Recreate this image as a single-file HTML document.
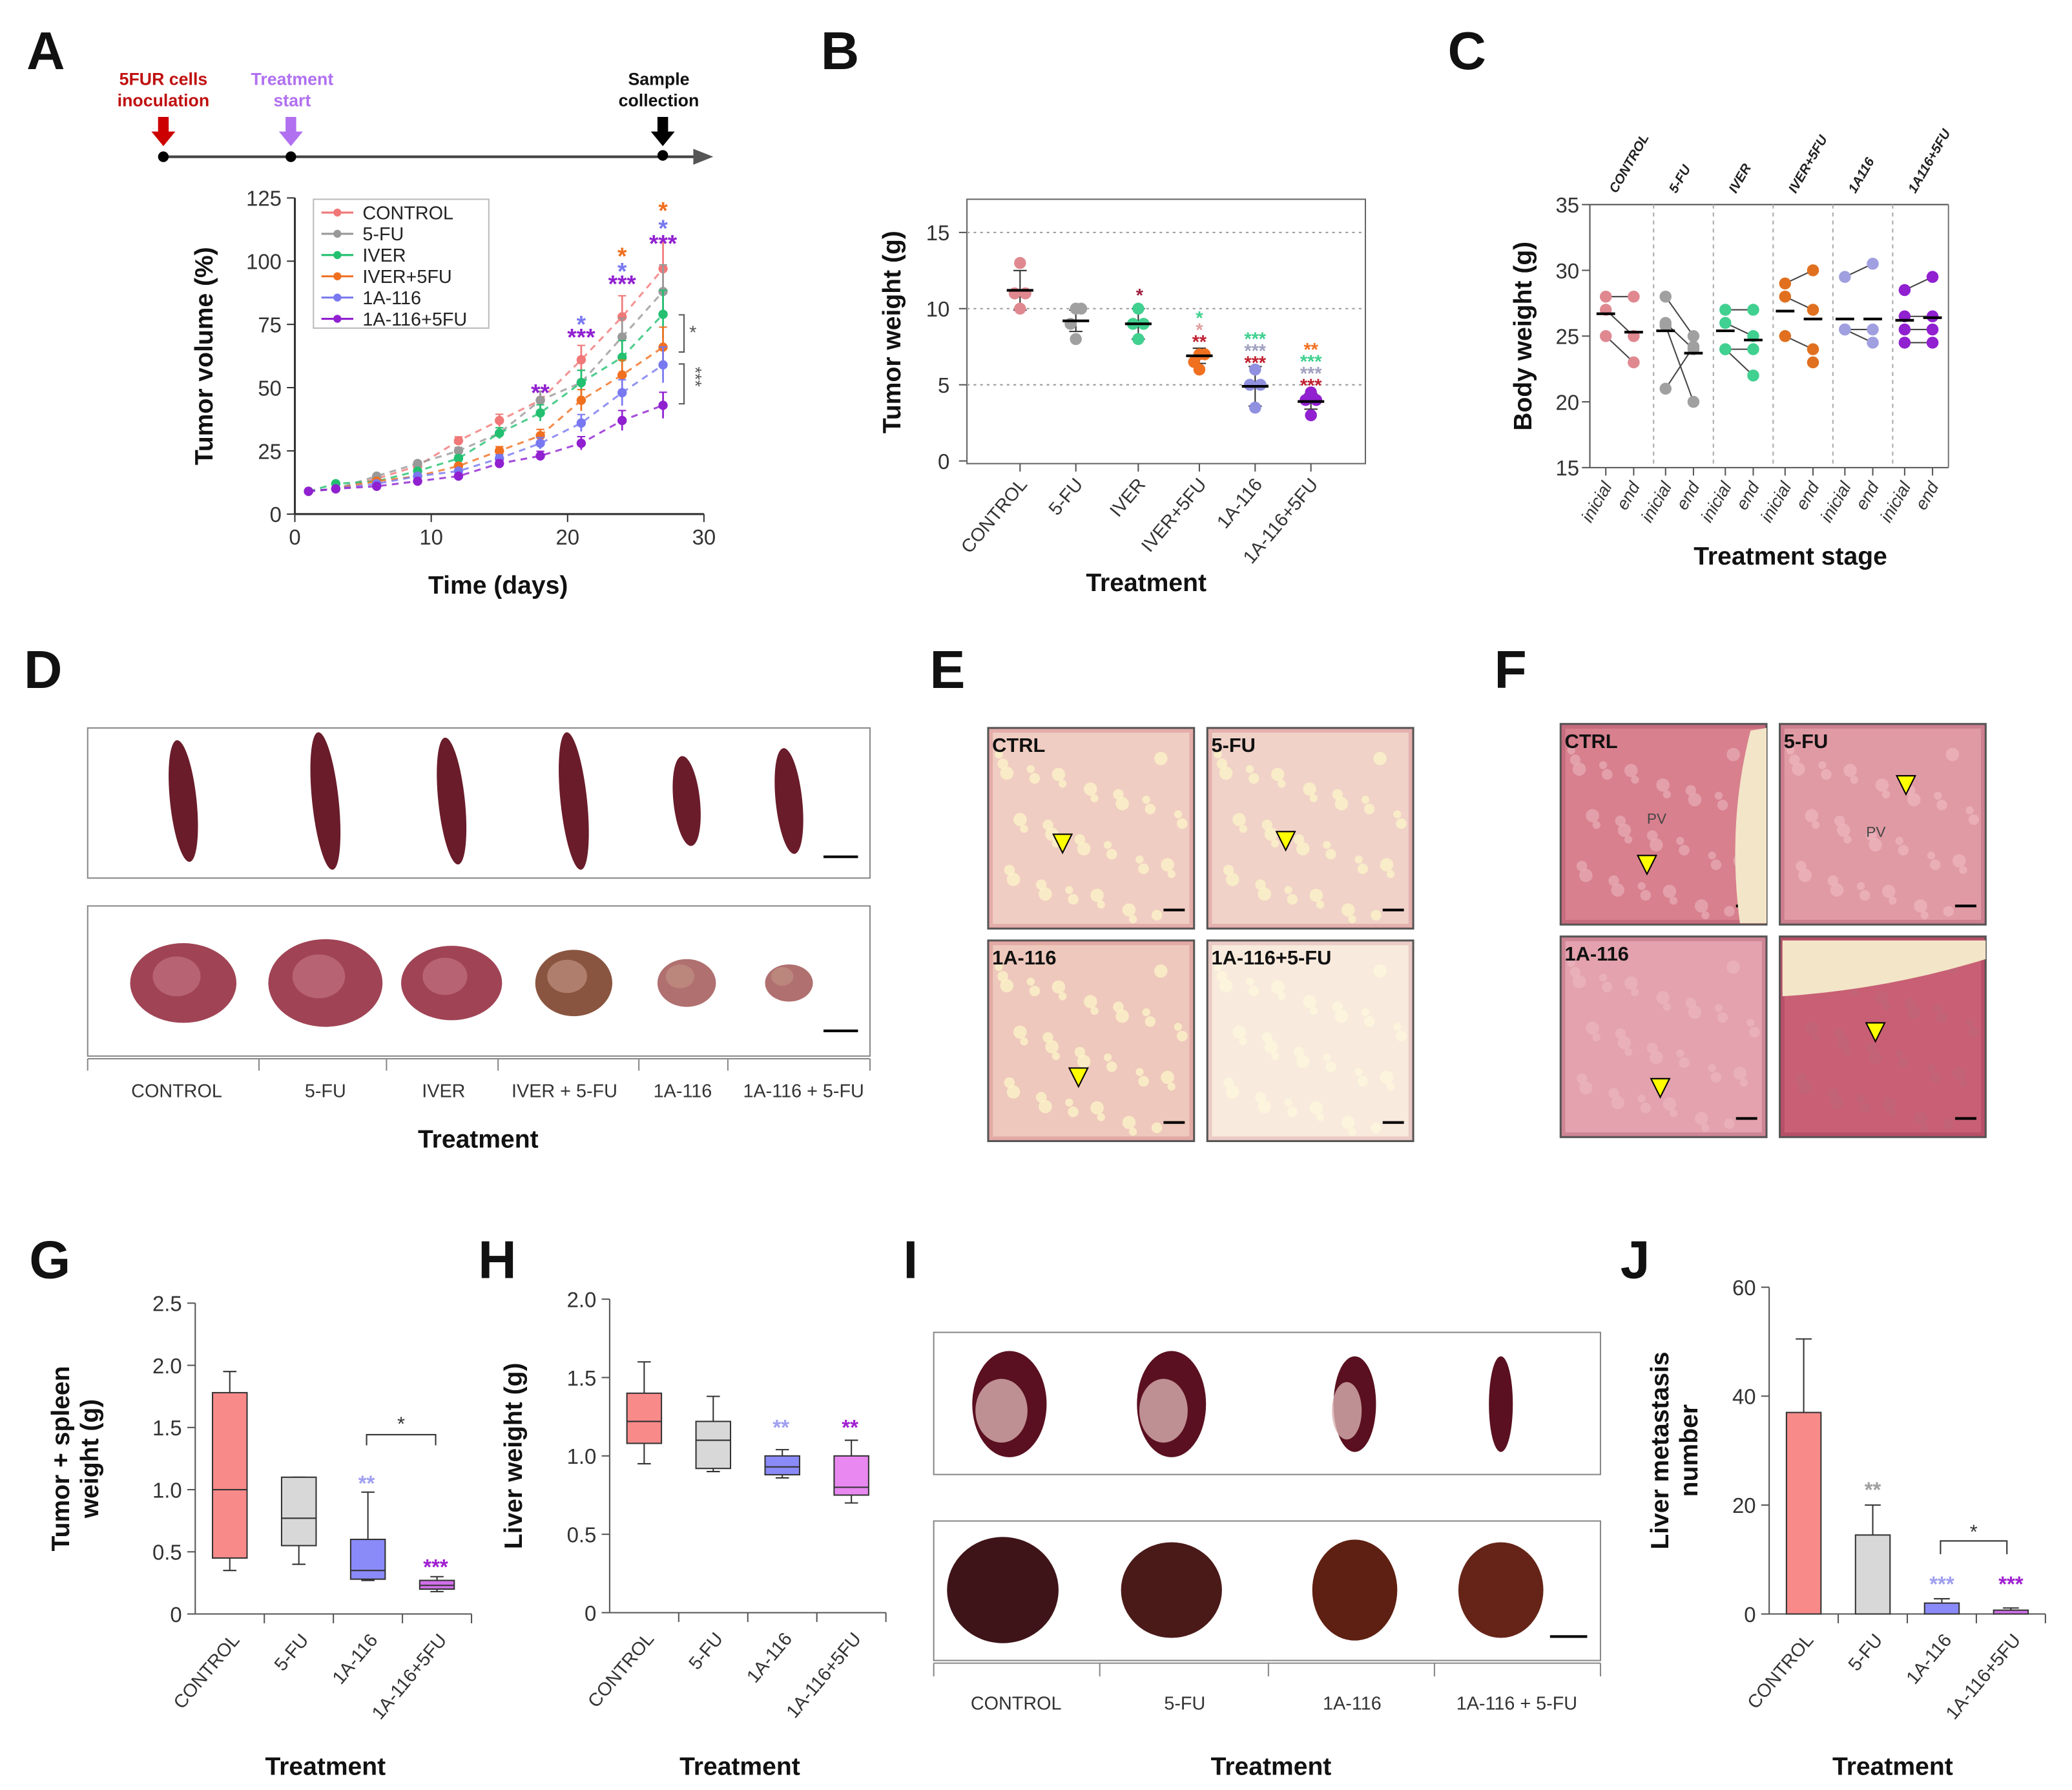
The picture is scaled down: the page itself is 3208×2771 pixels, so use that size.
<!DOCTYPE html>
<html><head><meta charset="utf-8"><style>
html,body{margin:0;padding:0;background:#fff;}
svg{display:block;font-family:"Liberation Sans",Arial,sans-serif;}
</style></head><body>
<svg id="fig" width="3208" height="2771" viewBox="0 0 1560 1347.5" xmlns="http://www.w3.org/2000/svg">
<rect width="1560" height="1347.5" fill="#fff"/>
<g font-weight="bold" font-size="40" fill="#111">
<text x="20" y="52">A</text>
<text x="618" y="52">B</text>
<text x="1090" y="52">C</text>
<text x="18" y="518">D</text>
<text x="700" y="518">E</text>
<text x="1125" y="518">F</text>
<text x="22" y="962">G</text>
<text x="360" y="962">H</text>
<text x="680" y="962">I</text>
<text x="1220" y="962">J</text>
</g>
<!-- timeline -->
<g>
<line x1="123" y1="118" x2="525" y2="118" stroke="#444" stroke-width="2"/>
<polygon points="522,112 537,118 522,124" fill="#555"/>
<circle cx="123" cy="118" r="4" fill="#000"/><circle cx="219" cy="118" r="4" fill="#000"/><circle cx="499" cy="117" r="4" fill="#000"/>
<polygon points="119,88 127,88 127,99 132,99 123,110 114,99 119,99" fill="#c00"/>
<polygon points="215,88 223,88 223,99 228,99 219,110 210,99 215,99" fill="#b070f0"/>
<polygon points="495,88 503,88 503,99 508,99 499,110 490,99 495,99" fill="#000"/>
<text x="123" y="64" font-size="13" font-weight="bold" fill="#c01010" text-anchor="middle">5FUR cells</text>
<text x="123" y="80" font-size="13" font-weight="bold" fill="#c01010" text-anchor="middle">inoculation</text>
<text x="220" y="64" font-size="13" font-weight="bold" fill="#b070f0" text-anchor="middle">Treatment</text>
<text x="220" y="80" font-size="13" font-weight="bold" fill="#b070f0" text-anchor="middle">start</text>
<text x="496" y="64" font-size="13" font-weight="bold" fill="#111" text-anchor="middle">Sample</text>
<text x="496" y="80" font-size="13" font-weight="bold" fill="#111" text-anchor="middle">collection</text>
</g>
<g id="gA"></g>
<g id="gB"></g>
<g id="gC"></g>
<g id="gD"></g>
<g id="gE"></g>
<g id="gF"></g>
<g id="gG"></g>
<g id="gH"></g>
<g id="gI"></g>
<g id="gJ"></g>
</svg>
<script>
// ---- Panel A data ----
const daysA = [1,3,6,9,12,15,18,21,24,27];
const seriesNamesA = ["CONTROL","5-FU","IVER","IVER+5FU","1A-116","1A-116+5FU"];
const controlA = [9,10,14,19,29,37,45,61,78,97];
const fuA = [9,10,15,20,25,32,45,52,70,88];
const iverA = [9,12,13,17,22,32,40,52,62,79];
const iverFuA = [9,10,13,15,19,25,31,45,55,66];
const a116A = [9,10,12,15,17,22,28,36,48,59];
const a116FuA = [9,10,11,13,15,20,23,28,37,43];
const xTicksA = [0,10,20,30];
const yTicksA = [0,25,50,75,100,125];
// ---- Panel B data ----
const catsB = ["CONTROL","5-FU","IVER","IVER+5FU","1A-116","1A-116+5FU"];
const meansB = [11.2,9.2,9.0,6.9,4.9,3.9];
const sdB = [1.3,0.7,1.0,0.5,1.3,0.5];
const pointsB = [[13,11,11,10],[10,10,9,8],[10,9,9,8],[7,7,6.5,6],[6,5,5,3.5],[4.5,4,4,3]];
const yTicksB = [0,5,10,15];
// ---- Panel C data ----
const catsC = ["CONTROL","5-FU","IVER","IVER+5FU","1A116","1A116+5FU"];
const initC = [[28,27,25],[28,26,25.8,21],[27,26,24,24],[29,28,25],[29.5,25.5,25.5],[28.5,26.5,25.5,24.5]];
const endC = [[28,25,23],[25,24,20,24.2],[27,25,24,22],[30,27,24,23],[30.5,25.5,24.5],[29.5,26.5,25.5,24.5]];
const initMeanC = [26.7,25.4,25.4,26.9,26.3,26.2];
const endMeanC = [25.3,23.7,24.7,26.3,26.3,26.4];
const yTicksC = [15,20,25,30,35];
// ---- Panel G data ----
const catsG = ["CONTROL","5-FU","1A-116","1A-116+5FU"];
const minG = [0.35,0.4,0.27,0.18];
const q1G = [0.45,0.55,0.28,0.2];
const medG = [1.0,0.77,0.35,0.23];
const q3G = [1.78,1.1,0.6,0.27];
const maxG = [1.95,1.1,0.98,0.3];
const yTicksG = [0,0.5,1.0,1.5,2.0,2.5];
const yTickLabelsG = ["0","0.5","1.0","1.5","2.0","2.5"];
// ---- Panel H data ----
const catsH = ["CONTROL","5-FU","1A-116","1A-116+5FU"];
const minH = [0.95,0.9,0.86,0.7];
const q1H = [1.08,0.92,0.88,0.75];
const medH = [1.22,1.1,0.93,0.8];
const q3H = [1.4,1.22,1.0,1.0];
const maxH = [1.6,1.38,1.04,1.1];
const yTicksH = [0,0.5,1.0,1.5,2.0];
const yTickLabelsH = ["0","0.5","1.0","1.5","2.0"];
// ---- Panel J data ----
const catsJ = ["CONTROL","5-FU","1A-116","1A-116+5FU"];
const valsJ = [37,14.5,2,0.7];
const errJ = [13.5,5.5,0.8,0.4];
const yTicksJ = [0,20,40,60];

const NS="http://www.w3.org/2000/svg";
function mk(tag, attrs, parent){const e=document.createElementNS(NS,tag);for(const k in attrs)e.setAttribute(k,attrs[k]);parent.appendChild(e);return e;}
function txt(str, attrs, parent){const e=mk("text",attrs,parent);e.textContent=str;return e;}
const lin=(d0,d1,r0,r1)=>v=>r0+(v-d0)*(r1-r0)/(d1-d0);

// ===== Panel A =====
(function(){
const g=document.getElementById("gA");
const x=lin(0,30,222,530), y=lin(0,125,387,149);
mk("line",{x1:222,y1:149,x2:222,y2:387,stroke:"#333","stroke-width":1.5},g);
mk("line",{x1:222,y1:387,x2:530,y2:387,stroke:"#333","stroke-width":1.5},g);
yTicksA.forEach(t=>{mk("line",{x1:216,x2:222,y1:y(t),y2:y(t),stroke:"#333"},g);
 const l=txt(String(t),{x:212,y:y(t)+6,"font-size":16,"text-anchor":"end",fill:"#333"},g);
 });
xTicksA.forEach(t=>{mk("line",{x1:x(t),x2:x(t),y1:387,y2:393,stroke:"#333"},g);
 const l=txt(String(t),{x:x(t),y:410,"font-size":16,"text-anchor":"middle",fill:"#333"},g);
 });
const yt=txt("Tumor volume (%)",{x:0,y:0,"font-size":19,"font-weight":"bold","text-anchor":"middle",transform:"translate(160,268) rotate(-90)",fill:"#111"},g);

const xt=txt("Time (days)",{x:375,y:447,"font-size":19,"font-weight":"bold","text-anchor":"middle",fill:"#111"},g);

const all=[controlA,fuA,iverA,iverFuA,a116A,a116FuA];
const cols=["#f07878","#999999","#22c070","#f07020","#7878f0","#9020d0"];
all.forEach((s,i)=>{
 const pts=s.map((v,j)=>x(daysA[j])+","+y(v)).join(" ");
 const pl=mk("polyline",{points:pts,fill:"none",stroke:cols[i],"stroke-width":1.5,"stroke-dasharray":"5,4",opacity:0.8},g);
 
 s.forEach((v,j)=>{const e=v*0.12*(j/9);
  if(e>1){mk("line",{x1:x(daysA[j]),x2:x(daysA[j]),y1:y(v-e),y2:y(v+e),stroke:cols[i],"stroke-width":1.3},g);
   mk("line",{x1:x(daysA[j])-3,x2:x(daysA[j])+3,y1:y(v+e),y2:y(v+e),stroke:cols[i]},g);}
  const c=mk("circle",{cx:x(daysA[j]),cy:y(v),r:3.5,fill:cols[i]},g);
  });
});
// legend
mk("rect",{x:236,y:150,width:132,height:97,fill:"#fff",stroke:"#bbb"},g);
seriesNamesA.forEach((n,i)=>{const yy=160+i*16;
 mk("line",{x1:242,x2:266,y1:yy,y2:yy,stroke:cols[i],"stroke-width":1.5},g);
 mk("circle",{cx:254,cy:yy,r:3,fill:cols[i]},g);
 const l=txt(n,{x:273,y:yy+5,"font-size":14,fill:"#222"},g);
 });
// stars
const st=[[18,49,"**","#9020d0"],[21,71,"***","#9020d0"],[21,76,"*","#7878f0"],[24,92,"***","#9020d0"],[24,97,"*","#7878f0"],[24,103,"*","#f07020"],[27,108,"***","#9020d0"],[27,114,"*","#7878f0"],[27,121,"*","#f07020"]];
st.forEach(s=>txt(s[2],{x:x(s[0]),y:y(s[1])+8,"font-size":18,"font-weight":"bold","text-anchor":"middle",fill:s[3]},g));
mk("path",{d:"M511,237 h4 v28 h-4",fill:"none",stroke:"#555"},g);
txt("*",{x:519,y:255,"font-size":14,fill:"#555"},g);
mk("path",{d:"M511,274 h4 v30 h-4",fill:"none",stroke:"#555"},g);
txt("***",{x:0,y:0,"font-size":13,fill:"#555",transform:"translate(519,276) rotate(90)"},g);
})();

// ===== Panel B =====
(function(){
const g=document.getElementById("gB");
const y=lin(0,15,347,175);
const xs=[768,810,857,903,945,987];
mk("rect",{x:728,y:150,width:300,height:199,fill:"none",stroke:"#666"},g);
yTicksB.forEach(t=>{mk("line",{x1:722,x2:728,y1:y(t),y2:y(t),stroke:"#555"},g);
 if(t>0)mk("line",{x1:728,x2:1028,y1:y(t),y2:y(t),stroke:"#999","stroke-dasharray":"2,3"},g);
 const l=txt(String(t),{x:715,y:y(t)+6,"font-size":16,"text-anchor":"end",fill:"#333"},g);
 });
const cols=["#e08890","#a0a0a0","#40d090","#f07020","#9090e0","#9020d0"];
catsB.forEach((c,i)=>{const cx=xs[i];
 mk("line",{x1:cx,x2:cx,y1:349,y2:355,stroke:"#555"},g);
 mk("line",{x1:cx,x2:cx,y1:y(meansB[i]-sdB[i]),y2:y(meansB[i]+sdB[i]),stroke:"#333"},g);
 mk("line",{x1:cx-5,x2:cx+5,y1:y(meansB[i]+sdB[i]),y2:y(meansB[i]+sdB[i]),stroke:"#333"},g);
 mk("line",{x1:cx-5,x2:cx+5,y1:y(meansB[i]-sdB[i]),y2:y(meansB[i]-sdB[i]),stroke:"#333"},g);
 pointsB[i].forEach((v,k)=>{const p=mk("circle",{cx:cx+(k%2?4:-4)*(k>0&&k<3?1:0),cy:y(v),r:4.5,fill:cols[i]},g);
  });
 const m=mk("line",{x1:cx-10,x2:cx+10,y1:y(meansB[i]),y2:y(meansB[i]),stroke:"#000","stroke-width":2},g);
 
 const l=txt(c,{x:0,y:0,"font-size":14,"text-anchor":"end",fill:"#333",transform:`translate(${cx+6},${365}) rotate(-50)`},g);
 });
const st=[[858,227,"*","#a02040"],[903,244,"*","#40d090"],[903,253,"*","#e0a0a0"],[903,262,"**","#c02030"],[945,260,"***","#40d090"],[945,269,"***","#a0a0c0"],[945,278,"***","#c02030"],[987,268,"**","#f07020"],[987,277,"***","#40d090"],[987,286,"***","#a0a0c0"],[987,295,"***","#c02030"]];
st.forEach(s=>txt(s[2],{x:s[0],y:s[1],"font-size":14,"font-weight":"bold","text-anchor":"middle",fill:s[3]},g));
const yt=txt("Tumor weight (g)",{x:0,y:0,"font-size":19,"font-weight":"bold","text-anchor":"middle",transform:"translate(678,250) rotate(-90)",fill:"#111"},g);

const xt=txt("Treatment",{x:863,y:445,"font-size":19,"font-weight":"bold","text-anchor":"middle",fill:"#111"},g);

})();

// ===== Panel C =====
(function(){
const g=document.getElementById("gC");
const y=lin(15,35,352,154);
mk("line",{x1:1197,x2:1197,y1:154,y2:352,stroke:"#555"},g);
mk("line",{x1:1197,x2:1467,y1:154,y2:154,stroke:"#555"},g);
mk("line",{x1:1197,x2:1467,y1:352,y2:352,stroke:"#555"},g);
mk("line",{x1:1467,x2:1467,y1:154,y2:352,stroke:"#777"},g);
yTicksC.forEach(t=>{mk("line",{x1:1191,x2:1197,y1:y(t),y2:y(t),stroke:"#555"},g);
 const l=txt(String(t),{x:1189,y:y(t)+6,"font-size":16,"text-anchor":"end",fill:"#333"},g);
 });
const cols=["#e08890","#a0a0a0","#40d090","#e07020","#a0a0e0","#9020d0"];
const gw=45;
catsC.forEach((c,i)=>{const x0=1197+i*gw, xi=x0+12, xe=x0+33;
 if(i>0)mk("line",{x1:x0+3,x2:x0+3,y1:154,y2:352,stroke:"#aaa","stroke-dasharray":"3,3"},g);
 const n=Math.max(initC[i].length,endC[i].length);
 for(let k=0;k<Math.min(initC[i].length,endC[i].length);k++)mk("line",{x1:xi,x2:xe,y1:y(initC[i][k]),y2:y(endC[i][k]),stroke:"#444"},g);
 initC[i].forEach(v=>{const p=mk("circle",{cx:xi,cy:y(v),r:4.5,fill:cols[i]},g);});
 endC[i].forEach(v=>{const p=mk("circle",{cx:xe,cy:y(v),r:4.5,fill:cols[i]},g);});
 mk("line",{x1:xi-7,x2:xi+7,y1:y(initMeanC[i]),y2:y(initMeanC[i]),stroke:"#000","stroke-width":2},g);
 mk("line",{x1:xe-7,x2:xe+7,y1:y(endMeanC[i]),y2:y(endMeanC[i]),stroke:"#000","stroke-width":2},g);
 mk("line",{x1:xi,x2:xi,y1:352,y2:358,stroke:"#555"},g);mk("line",{x1:xe,x2:xe,y1:352,y2:358,stroke:"#555"},g);
 const a=txt("inicial",{x:0,y:0,"font-size":13,"font-style":"italic","text-anchor":"end",fill:"#333",transform:`translate(${xi+5},${366}) rotate(-60)`},g);
 
 const b=txt("end",{x:0,y:0,"font-size":13,"font-style":"italic","text-anchor":"end",fill:"#333",transform:`translate(${xe+5},${366}) rotate(-60)`},g);
 
 const t=txt(c,{x:0,y:0,"font-size":10,"font-weight":"bold","font-style":"italic",fill:"#222",transform:`translate(${x0+20},${146}) rotate(-60)`},g);
 });
const yt=txt("Body weight (g)",{x:0,y:0,"font-size":19,"font-weight":"bold","text-anchor":"middle",transform:"translate(1153,253) rotate(-90)",fill:"#111"},g);

const xt=txt("Treatment stage",{x:1348,y:425,"font-size":19,"font-weight":"bold","text-anchor":"middle",fill:"#111"},g);

})();

// ===== Panel D photos =====
(function(){
const g=document.getElementById("gD");
mk("rect",{x:66,y:548,width:589,height:113,fill:"#fff",stroke:"#888"},g);
mk("rect",{x:66,y:682,width:589,height:113,fill:"#fff",stroke:"#888"},g);
const xs=[138,245,340,432,517,594];
const sh=[46,52,48,52,34,40];
const tr=[30,33,28,25,18,14];
xs.forEach((cx,i)=>{mk("ellipse",{cx:cx,cy:603,rx:10,ry:sh[i],fill:"#6a1c2a",transform:`rotate(-6 ${cx} 603)`},g);
 mk("ellipse",{cx:cx,cy:740,rx:tr[i]+(i<3?10:4),ry:tr[i],fill:i<3?"#a04455":(i===3?"#8a5540":"#b07070")},g);
 mk("ellipse",{cx:cx-5,cy:735,rx:tr[i]*0.6,ry:tr[i]*0.5,fill:i<3?"#c07080":"#c09080",opacity:0.7},g);});
mk("line",{x1:620,x2:646,y1:645,y2:645,stroke:"#000","stroke-width":2},g);
mk("line",{x1:620,x2:646,y1:776,y2:776,stroke:"#000","stroke-width":2},g);
mk("line",{x1:66,x2:655,y1:797,y2:797,stroke:"#888"},g);
const labs=["CONTROL","5-FU","IVER","IVER + 5-FU","1A-116","1A-116 + 5-FU"];
const lx=[133,245,334,425,514,605];
[66,195,291,375,481,548,655].forEach(t=>mk("line",{x1:t,x2:t,y1:797,y2:806,stroke:"#888"},g));
labs.forEach((l,i)=>{const e=txt(l,{x:lx[i],y:826,"font-size":14,"text-anchor":"middle",fill:"#333"},g);});
txt("Treatment",{x:360,y:864,"font-size":19,"font-weight":"bold","text-anchor":"middle",fill:"#111"},g);
})();

// ===== Panel E/F histology =====
function histo(gid, boxes, labels, base, dot, hole){
const g=document.getElementById(gid);
boxes.forEach((b,i)=>{mk("rect",{x:b[0],y:b[1],width:155,height:151,fill:base[i],stroke:"#555","stroke-width":1.5},g);
 for(let k=0;k<40;k++){const px=b[0]+8+((k*37)%140), py=b[1]+20+((k*53)%125);
  mk("circle",{cx:px,cy:py,r:3+(k%3),fill:hole[i],opacity:0.8},g);}
 mk("rect",{x:b[0]+2,y:b[1]+2,width:151,height:147,fill:"none",stroke:dot[i],"stroke-width":3,opacity:0.25},g);
 const t=txt(labels[i],{x:b[0]+3,y:b[1]+18,"font-size":15,"font-weight":"bold",fill:"#111"},g);
 
 mk("line",{x1:b[0]+132,x2:b[0]+148,y1:b[1]+137,y2:b[1]+137,stroke:"#000","stroke-width":2},g);});
}
histo("gE",[[744,548],[909,548],[744,708],[909,708]],["CTRL","5-FU","1A-116","1A-116+5-FU"],["#f0cdc2","#f0d2c8","#eec8bc","#f8eadc"],["#c05060","#c05060","#c05060","#c07080"],["#fbf3c8","#fbf3c8","#fbf3c8","#fdf6dc"]);
histo("gF",[[1175,545],[1340,545],[1175,705],[1340,705]],["CTRL","5-FU","1A-116","1A-116+5-FU"],["#d8808e","#e09aa4","#e3a2ad","#c85f74"],["#903050","#903050","#903050","#802040"],["#e6a8b2","#ecb3bb","#eab4bc","#c06479"]);
(function(){const g=document.getElementById("gE");
[[800,636],[968,634],[812,812]].forEach(p=>mk("polygon",{points:`${p[0]-7},${p[1]-8} ${p[0]+7},${p[1]-8} ${p[0]},${p[1]+6}`,fill:"#ff0",stroke:"#000"},g));
const gf=document.getElementById("gF");
mk("path",{d:"M1318,550 Q1300,620 1310,695 L1330,695 L1330,548 Z",fill:"#f3e5c8"},gf);
mk("path",{d:"M1342,708 L1495,708 L1495,722 Q1420,745 1342,750 Z",fill:"#f3e5c8"},gf);
[[1240,652],[1435,592],[1250,820],[1412,778]].forEach(p=>mk("polygon",{points:`${p[0]-7},${p[1]-8} ${p[0]+7},${p[1]-8} ${p[0]},${p[1]+6}`,fill:"#ff0",stroke:"#000"},gf));
txt("PV",{x:1240,y:620,"font-size":11,fill:"#444"},gf);txt("PV",{x:1405,y:630,"font-size":11,fill:"#444"},gf);
})();

// ===== Box plots G,H =====
function boxplot(gid, axisX, y0px, yMaxPx, yMax, ticks, tickLabels, cats, mn,q1,md,q3,mx, fills, title, titleX, titleLines){
const g=document.getElementById(gid);
const y=lin(0,yMax,y0px,yMaxPx);
const w=52;
mk("line",{x1:axisX,x2:axisX,y1:yMaxPx,y2:y0px,stroke:"#555"},g);
mk("line",{x1:axisX,x2:axisX+w*4,y1:y0px,y2:y0px,stroke:"#555"},g);
ticks.forEach((t,i)=>{mk("line",{x1:axisX-6,x2:axisX,y1:y(t),y2:y(t),stroke:"#555"},g);
 const l=txt(tickLabels[i],{x:axisX-10,y:y(t)+6,"font-size":16,"text-anchor":"end",fill:"#333"},g);
 });
cats.forEach((c,i)=>{const cx=axisX+w*i+w/2;
 mk("line",{x1:axisX+w*(i+1),x2:axisX+w*(i+1),y1:y0px,y2:y0px+7,stroke:"#555"},g);
 mk("line",{x1:cx,x2:cx,y1:y(mn[i]),y2:y(mx[i]),stroke:"#333"},g);
 mk("line",{x1:cx-5,x2:cx+5,y1:y(mx[i]),y2:y(mx[i]),stroke:"#333"},g);
 mk("line",{x1:cx-5,x2:cx+5,y1:y(mn[i]),y2:y(mn[i]),stroke:"#333"},g);
 const r=mk("rect",{x:cx-13,y:y(q3[i]),width:26,height:y(q1[i])-y(q3[i]),fill:fills[i],stroke:"#333"},g);
 
 mk("line",{x1:cx-13,x2:cx+13,y1:y(md[i]),y2:y(md[i]),stroke:"#333"},g);
 const l=txt(c,{x:0,y:0,"font-size":14,"text-anchor":"end",fill:"#333",transform:`translate(${cx+8},${y0px+20}) rotate(-50)`},g);
 });
titleLines.forEach((tl,k)=>{const yt=txt(tl,{x:0,y:0,"font-size":19,"font-weight":"bold","text-anchor":"middle",transform:`translate(${titleX+k*22},${(y0px+yMaxPx)/2}) rotate(-90)`,fill:"#111"},g);
 });
const xt=txt("Treatment",{x:axisX+w*2-6,y:1336,"font-size":19,"font-weight":"bold","text-anchor":"middle",fill:"#111"},g);

return {g,y};
}
(function(){
const r=boxplot("gG",147,1215,981,2.5,yTicksG,yTickLabelsG,catsG,minG,q1G,medG,q3G,maxG,["#f88a8a","#d8d8d8","#8a8af8","#d070e8"],"",52,["Tumor + spleen","weight (g)"]);
txt("**",{x:276,y:1122,"font-size":16,"font-weight":"bold","text-anchor":"middle",fill:"#a0a0f0"},r.g);
txt("***",{x:328,y:1185,"font-size":16,"font-weight":"bold","text-anchor":"middle",fill:"#a020d0"},r.g);
mk("path",{d:"M276,1088 v-8 h52 v8",fill:"none",stroke:"#333"},r.g);
txt("*",{x:302,y:1077,"font-size":15,"text-anchor":"middle",fill:"#333"},r.g);
const h=boxplot("gH",459,1214,978,2.0,yTicksH,yTickLabelsH,catsH,minH,q1H,medH,q3H,maxH,["#f88a8a","#d8d8d8","#8a8af8","#e888f0"],"",393,["Liver weight (g)"]);
txt("**",{x:588,y:1080,"font-size":16,"font-weight":"bold","text-anchor":"middle",fill:"#a0a0f0"},h.g);
txt("**",{x:640,y:1080,"font-size":16,"font-weight":"bold","text-anchor":"middle",fill:"#a020d0"},h.g);
})();

// ===== Panel I photos =====
(function(){
const g=document.getElementById("gI");
mk("rect",{x:703,y:1003,width:502,height:107,fill:"#fff",stroke:"#888"},g);
mk("rect",{x:703,y:1145,width:502,height:105,fill:"#fff",stroke:"#888"},g);
const xs=[760,882,1020,1130];
[[28,40],[26,40],[16,36],[9,36]].forEach((s,i)=>{mk("ellipse",{cx:xs[i],cy:1057,rx:s[0],ry:s[1],fill:"#5a1020"},g);
 if(i<3)mk("ellipse",{cx:xs[i]-6,cy:1062,rx:s[0]*0.7,ry:s[1]*0.6,fill:"#d8b0b0",opacity:0.8},g);});
[[42,40,"#3e1418"],[38,36,"#4a1a18"],[32,38,"#5e2012"],[32,36,"#662418"]].forEach((s,i)=>mk("ellipse",{cx:xs[i]+(i==0?-5:0),cy:1197,rx:s[0],ry:s[1],fill:s[2]},g));
mk("line",{x1:1167,x2:1195,y1:1232,y2:1232,stroke:"#000","stroke-width":2},g);
mk("line",{x1:703,x2:1205,y1:1252,y2:1252,stroke:"#888"},g);
[703,828,955,1080,1205].forEach(t=>mk("line",{x1:t,x2:t,y1:1252,y2:1262,stroke:"#888"},g));
const labs=["CONTROL","5-FU","1A-116","1A-116 + 5-FU"];const lx=[765,892,1018,1142];
labs.forEach((l,i)=>{const e=txt(l,{x:lx[i],y:1287,"font-size":14,"text-anchor":"middle",fill:"#333"},g);});
txt("Treatment",{x:957,y:1336,"font-size":19,"font-weight":"bold","text-anchor":"middle",fill:"#111"},g);
})();

// ===== Panel J =====
(function(){
const g=document.getElementById("gJ");
const y=lin(0,60,1215,969);
const ax=1332, w=52;
mk("line",{x1:ax,x2:ax,y1:969,y2:1215,stroke:"#555"},g);
mk("line",{x1:ax,x2:ax+w*4,y1:1215,y2:1215,stroke:"#555"},g);
yTicksJ.forEach(t=>{mk("line",{x1:ax-6,x2:ax,y1:y(t),y2:y(t),stroke:"#555"},g);
 const l=txt(String(t),{x:ax-10,y:y(t)+6,"font-size":16,"text-anchor":"end",fill:"#333"},g);
 });
const cols=["#f88a8a","#d8d8d8","#8a8af8","#d070e8"];
catsJ.forEach((c,i)=>{const cx=ax+w*i+w/2;
 mk("line",{x1:ax+w*(i+1),x2:ax+w*(i+1),y1:1215,y2:1222,stroke:"#555"},g);
 mk("line",{x1:cx,x2:cx,y1:y(valsJ[i]),y2:y(valsJ[i]+errJ[i]),stroke:"#333"},g);
 mk("line",{x1:cx-6,x2:cx+6,y1:y(valsJ[i]+errJ[i]),y2:y(valsJ[i]+errJ[i]),stroke:"#333"},g);
 const b=mk("rect",{x:cx-13,y:y(valsJ[i]),width:26,height:1215-y(valsJ[i]),fill:cols[i],stroke:"#333"},g);
 
 const l=txt(c,{x:0,y:0,"font-size":14,"text-anchor":"end",fill:"#333",transform:`translate(${cx+8},${1235}) rotate(-50)`},g);
 });
txt("**",{x:ax+w*1.5,y:y(valsJ[1]+errJ[1])-6,"font-size":16,"font-weight":"bold","text-anchor":"middle",fill:"#a0a0a0"},g);
txt("***",{x:ax+w*2.5,y:1198,"font-size":16,"font-weight":"bold","text-anchor":"middle",fill:"#a0a0f0"},g);
txt("***",{x:ax+w*3.5,y:1198,"font-size":16,"font-weight":"bold","text-anchor":"middle",fill:"#a020d0"},g);
mk("path",{d:"M1461,1170 v-10 h50 v10",fill:"none",stroke:"#333"},g);
txt("*",{x:1486,y:1158,"font-size":15,"text-anchor":"middle",fill:"#333"},g);
const t1=txt("Liver metastasis",{x:0,y:0,"font-size":19,"font-weight":"bold","text-anchor":"middle",transform:"translate(1256,1092) rotate(-90)",fill:"#111"},g);

txt("number",{x:0,y:0,"font-size":19,"font-weight":"bold","text-anchor":"middle",transform:"translate(1278,1092) rotate(-90)",fill:"#111"},g);
const xt=txt("Treatment",{x:1425,y:1336,"font-size":19,"font-weight":"bold","text-anchor":"middle",fill:"#111"},g);

})();
</script>
</body></html>
